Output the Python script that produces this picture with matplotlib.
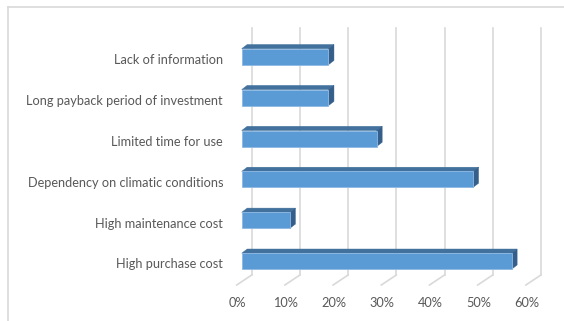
import matplotlib
matplotlib.use("Agg")
import matplotlib.pyplot as plt
from matplotlib.patches import Polygon
from matplotlib.lines import Line2D

# data (bottom to top)
categories = ["High purchase cost", "High maintenance cost",
              "Dependency on climatic conditions", "Limited time for use",
              "Long payback period of investment", "Lack of information"]
values = [56, 10, 48, 28, 18, 18]
ticks = [0, 10, 20, 30, 40, 50, 60]
tick_labels = ["0%", "10%", "20%", "30%", "40%", "50%", "60%"]

W, H = 564, 321
fig = plt.figure(figsize=(W / 100, H / 100), dpi=100)

# axes placed in pixels: bar front plane
left_px, right_px = 241.7, 530.9
top_px, bot_px = 36.25, 281.65
ax = fig.add_axes([left_px / W, 1 - bot_px / H,
                   (right_px - left_px) / W, (bot_px - top_px) / H])
ax.set_xlim(0, 60)
ax.set_ylim(-0.5, 5.5)
ax.axis("off")

px_x = (right_px - left_px) / 60.0   # pixels per percent
px_y = (bot_px - top_px) / 6.0       # pixels per category

def dx(p):
    return p / px_x

def dy(p):
    return p / px_y

grid_col = "#D9D9D9"
# back wall gridlines + floor diagonals
for t in ticks:
    xb = t + dx(10)
    ax.plot([xb, xb], [-0.5 + dy(6.65), 5.5 + dy(8.2)], color=grid_col,
            lw=1.2, clip_on=False, zorder=1)
    ax.plot([xb, t - dx(5)], [-0.5 + dy(6.65), -0.5 - dy(3.35)],
            color=grid_col, lw=1.2, clip_on=False, zorder=1)

# bars
h = 16 / px_y
ddx, ddy = dx(5.5), dy(4.2)
front_col = "#5B9BD5"
top_col = "#41719C"
side_col = "#355F8A"
for i, v in enumerate(values):
    ax.barh(i, v, height=h, color=front_col, edgecolor="#8DB8E4",
            linewidth=0.6, zorder=3)
    y0, y1 = i - h / 2, i + h / 2
    top = Polygon([(0, y1), (v, y1), (v + ddx, y1 + ddy), (ddx, y1 + ddy)],
                  closed=True, facecolor=top_col, edgecolor=top_col,
                  lw=0.3, zorder=2, clip_on=False)
    side = Polygon([(v, y0), (v, y1), (v + ddx, y1 + ddy), (v + ddx, y0 + ddy)],
                   closed=True, facecolor=side_col, edgecolor=side_col,
                   lw=0.3, zorder=2, clip_on=False)
    ax.add_patch(top)
    ax.add_patch(side)

txt_col = "#595959"
font = "Lato"
for i, c in enumerate(categories):
    ax.text(-dx(18.7), i - dy(3.3), c, ha="right", va="center",
            fontsize=9.2, color=txt_col, family=font, clip_on=False)
for t, lab in zip(ticks, tick_labels):
    ax.text(t - dx(4.4), -0.5 - dy(21.6), lab, ha="center", va="center",
            fontsize=9.2, color=txt_col, family=font, clip_on=False)

# chart area border (top and left edges visible)
fig.add_artist(Line2D([8 / W, 1], [1 - 6.8 / H, 1 - 6.8 / H],
                      transform=fig.transFigure, color="#D9D9D9", lw=1.2))
fig.add_artist(Line2D([8 / W, 8 / W], [0, 1 - 6.8 / H],
                      transform=fig.transFigure, color="#D9D9D9", lw=1.2))

fig.savefig("out.png", dpi=100)
